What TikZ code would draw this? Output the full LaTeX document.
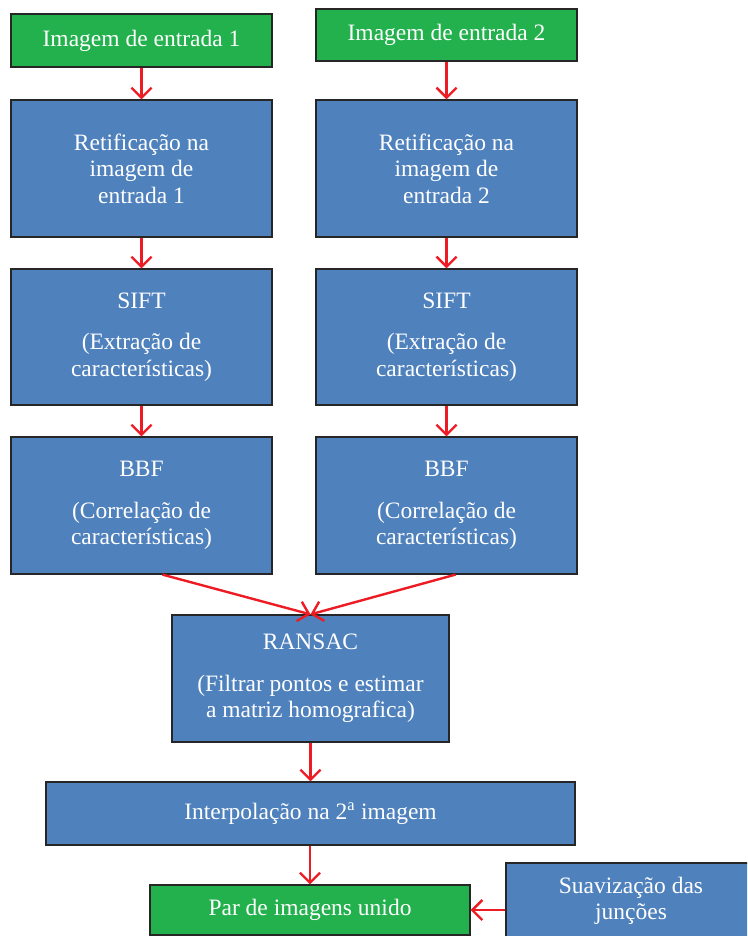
\documentclass[tikz,border=0pt]{standalone}
\usepackage{fontspec}
\setmainfont{Liberation Serif}
\usetikzlibrary{arrows.meta}
\definecolor{boxgreen}{RGB}{34,177,76}
\definecolor{boxblue}{RGB}{79,129,189}
\definecolor{arrred}{RGB}{237,28,36}
\tikzset{
  base/.style={draw=black!85, line width=1.2pt, text=white, align=center, inner sep=0pt,
    font=\fontsize{23.5}{26.5}\selectfont},
  gbox/.style={base, fill=boxgreen},
  bbox/.style={base, fill=boxblue},
  arr/.style={draw=arrred, line width=2.4pt, -{Straight Barb[length=10pt,width=20pt,line width=2.4pt]}}
}
\begin{document}
\begin{tikzpicture}[x=1pt,y=-1pt]
\clip (0,0) rectangle (747,936);
\useasboundingbox (0,0) rectangle (747,936);
\node[gbox, minimum width=261pt, minimum height=53pt] (in1) at (141.5,40.5) {Imagem de entrada 1};
\node[gbox, minimum width=261pt, minimum height=52pt] (in2) at (446.5,35) {Imagem de entrada 2};
\node[bbox, minimum width=261pt, minimum height=137pt] (ret1) at (141.5,168.5) {Retificação na\\imagem de\\entrada 1};
\node[bbox, minimum width=261pt, minimum height=137pt] (ret2) at (446.5,168.5) {Retificação na\\imagem de\\entrada 2};
\node[bbox, minimum width=261pt, minimum height=136pt] (sift1) at (141.5,337) {SIFT\\[15pt](Extração de\\características)};
\node[bbox, minimum width=261pt, minimum height=136pt] (sift2) at (446.5,337) {SIFT\\[15pt](Extração de\\características)};
\node[bbox, minimum width=261pt, minimum height=137pt] (bbf1) at (141.5,505.5) {BBF\\[15pt](Correlação de\\características)};
\node[bbox, minimum width=261pt, minimum height=137pt] (bbf2) at (446.5,505.5) {BBF\\[15pt](Correlação de\\características)};
\node[bbox, minimum width=277pt, minimum height=127pt] (ransac) at (310.5,678.5) {RANSAC\\[15pt](Filtrar pontos e estimar\\a matriz homografica)};
\node[bbox, minimum width=529pt, minimum height=63pt] (interp) at (310.5,813.5) {Interpolação na 2\textsuperscript{a} imagem};
\node[gbox, minimum width=320pt, minimum height=50pt] (par) at (310,910) {Par de imagens unido};
\node[bbox, minimum width=250pt, minimum height=76pt] (suav) at (631,901) {Suavização das\\junções};
\draw[arr] (in1) -- (ret1);
\draw[arr] (in2) -- (ret2);
\draw[arr] (ret1) -- (sift1);
\draw[arr] (ret2) -- (sift2);
\draw[arr] (sift1) -- (bbf1);
\draw[arr] (sift2) -- (bbf2);
\draw[arr] ([xshift=21pt]bbf1.south) -- (ransac.north);
\draw[arr] ([xshift=9pt]bbf2.south) -- (ransac.north);
\draw[arr] (ransac) -- (interp);
\draw[arr] (interp.south -| par.north) -- (par.north);
\draw[arr] (suav.west |- par.east) -- (par.east);
\end{tikzpicture}
\end{document}
